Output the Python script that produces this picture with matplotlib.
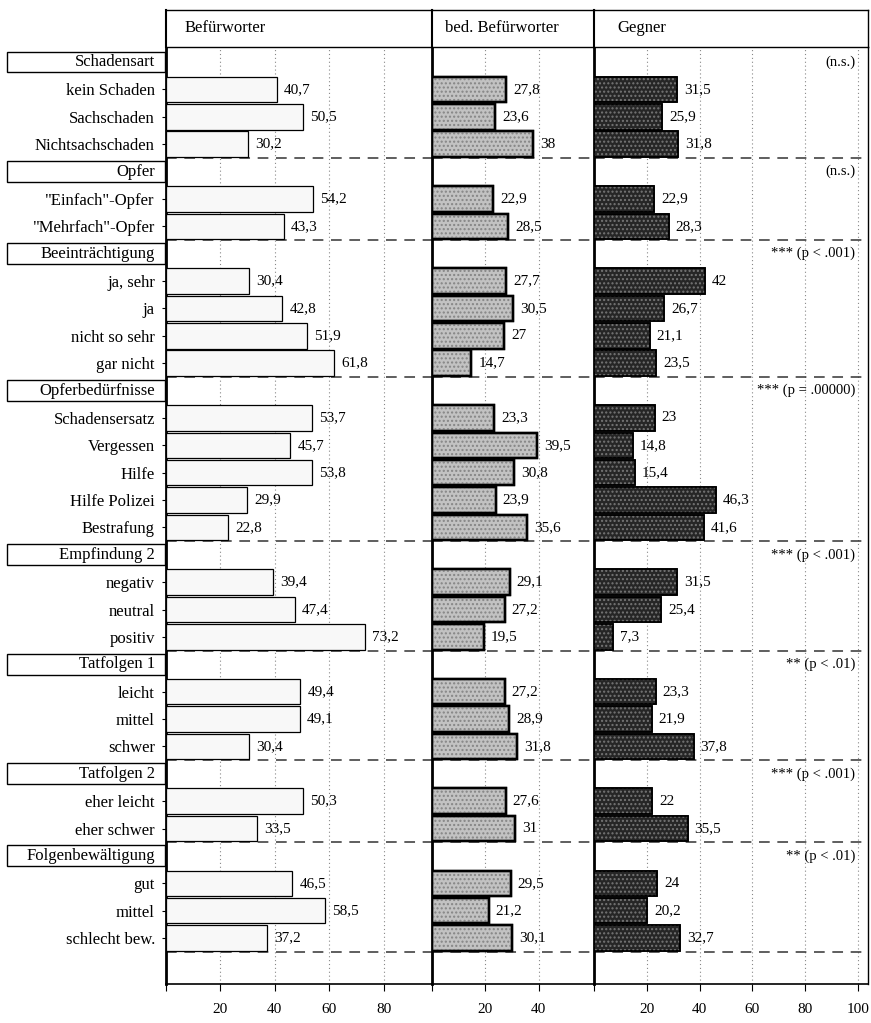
import numpy as np
import matplotlib.pyplot as plt
from matplotlib.patches import Rectangle
from matplotlib.transforms import blended_transform_factory

plt.rcParams['font.family'] = ['Liberation Serif', 'DejaVu Serif']

# groups of the chart (header, category labels)
groups = ["Schadensart", "Opfer", "Beeinträchtigung", "Opferbedürfnisse",
          "Empfindung 2", "Tatfolgen 1", "Tatfolgen 2", "Folgenbewältigung"]
categories = [
    ["kein Schaden", "Sachschaden", "Nichtsachschaden"],
    ['"Einfach"-Opfer', '"Mehrfach"-Opfer'],
    ["ja, sehr", "ja", "nicht so sehr", "gar nicht"],
    ["Schadensersatz", "Vergessen", "Hilfe", "Hilfe Polizei", "Bestrafung"],
    ["negativ", "neutral", "positiv"],
    ["leicht", "mittel", "schwer"],
    ["eher leicht", "eher schwer"],
    ["gut", "mittel", "schlecht bew."],
]
significance = ["(n.s.)", "(n.s.)", "*** (p < .001)", "*** (p = .00000)",
                "*** (p < .001)", "** (p < .01)", "*** (p < .001)", "** (p < .01)"]

befuerworter = [
    [40.7, 50.5, 30.2],
    [54.2, 43.3],
    [30.4, 42.8, 51.9, 61.8],
    [53.7, 45.7, 53.8, 29.9, 22.8],
    [39.4, 47.4, 73.2],
    [49.4, 49.1, 30.4],
    [50.3, 33.5],
    [46.5, 58.5, 37.2],
]
bed_befuerworter = [
    [27.8, 23.6, 38],
    [22.9, 28.5],
    [27.7, 30.5, 27, 14.7],
    [23.3, 39.5, 30.8, 23.9, 35.6],
    [29.1, 27.2, 19.5],
    [27.2, 28.9, 31.8],
    [27.6, 31],
    [29.5, 21.2, 30.1],
]
gegner = [
    [31.5, 25.9, 31.8],
    [22.9, 28.3],
    [42, 26.7, 21.1, 23.5],
    [23, 14.8, 15.4, 46.3, 41.6],
    [31.5, 25.4, 7.3],
    [23.3, 21.9, 37.8],
    [22, 35.5],
    [24, 20.2, 32.7],
]
panel_titles = ["Befürworter", "bed. Befürworter", "Gegner"]
panel_ticks = [[20, 40, 60, 80], [20, 40], [20, 40, 60, 80, 100]]


def fmt(v):
    if float(v).is_integer():
        return str(int(v))
    return ("%.1f" % v).replace(".", ",")


# row layout: header row followed by its categories
header_rows = []
cat_rows = []
cat_labels = []
separators = []
row = 0
for g, cats in zip(groups, categories):
    header_rows.append(row)
    row += 1
    for c in cats:
        cat_rows.append(row)
        cat_labels.append(c)
        row += 1
    separators.append(row - 0.5)

W, H = 871, 1023
fig = plt.figure(figsize=(W / 100, H / 100), dpi=100)

# pixel geometry of the panels
px_per_unit = [2.72, 2.67, 2.64]
panel_x = [(166, 432), (432, 594), (594, 868)]
title_x = [185, 445, 617]
y_top, y_bot, y_title = 47, 984, 10

styles = [
    dict(face="#f8f8f8", edge="black", lw=0.9, hatch=None, hcol=None),
    dict(face="#c2c2c2", edge="black", lw=1.7, hatch="....", hcol="#858585"),
    dict(face="#262626", edge="black", lw=1.2, hatch="....", hcol="#767676"),
]
all_values = [befuerworter, bed_befuerworter, gegner]

axes = []
for p, (x0, x1) in enumerate(panel_x):
    ax = fig.add_axes([x0 / W, 1 - y_bot / H, (x1 - x0) / W, (y_bot - y_top) / H])
    axes.append(ax)
    ax.set_xlim(0, (x1 - x0) / px_per_unit[p])
    ax.set_ylim(row + 0.68, -0.55)

    vals = [v for grp in all_values[p] for v in grp]
    st = styles[p]
    ax.barh(cat_rows, vals, height=0.93, color=st["face"], edgecolor=st["edge"],
            linewidth=st["lw"], zorder=3)
    if st["hatch"]:
        ax.barh(cat_rows, vals, height=0.93, color="none", edgecolor=st["hcol"],
                hatch=st["hatch"], linewidth=0, zorder=3)
        ax.barh(cat_rows, vals, height=0.93, color="none", edgecolor=st["edge"],
                linewidth=st["lw"], zorder=3)
    for y, v in zip(cat_rows, vals):
        ax.text(v + 2.6, y, fmt(v), va="center", ha="left", fontsize=11, zorder=4)

    for s in separators:
        ax.axhline(s, color="#333333", lw=1.1, linestyle=(0, (7, 5)), zorder=2)

    for t in panel_ticks[p]:
        ax.axvline(t, color="#888888", lw=0.8, linestyle=(0, (1, 2.5)), zorder=1)

    ax.set_xticks([0] + panel_ticks[p])
    ax.set_xticklabels([""] + [str(t) for t in panel_ticks[p]], fontsize=11)
    ax.tick_params(axis="x", direction="out", length=5, pad=9)
    ax.spines["top"].set_visible(False)
    ax.spines["left"].set_linewidth(2.0)
    ax.spines["bottom"].set_linewidth(1.2)
    ax.spines["right"].set_visible(p == 2)
    ax.spines["right"].set_linewidth(1.0)
    if p == 0:
        ax.set_yticks(cat_rows + header_rows)
        ax.set_yticklabels(cat_labels + [""] * len(header_rows), fontsize=12)
        ax.tick_params(axis="y", direction="out", length=3, pad=5)
    else:
        ax.set_yticks([])
    ax.set_facecolor("none")

    # title row above the panel
    tax = fig.add_axes([x0 / W, 1 - y_top / H, (x1 - x0) / W, (y_top - y_title) / H])
    tax.set_xticks([])
    tax.set_yticks([])
    for sp in tax.spines.values():
        sp.set_linewidth(1.0)
    tax.spines["left"].set_linewidth(1.5)
    tax.text((title_x[p] - x0) / (x1 - x0), 0.5, panel_titles[p], transform=tax.transAxes,
             va="center", ha="left", fontsize=12)

# significance notes on the right
for y, s in zip(header_rows, significance):
    axes[2].text((855 - 594) / px_per_unit[2], y, s, va="center", ha="right", fontsize=10.5)

# boxed group headers on the left
tr = blended_transform_factory(fig.transFigure, axes[0].transData)
for y, g in zip(header_rows, groups):
    fig.add_artist(Rectangle((7 / W, y - 0.38), 158 / W, 0.76, transform=tr,
                             facecolor="white", edgecolor="black", lw=1.0))
    fig.text(155 / W, y, g, transform=tr, va="center", ha="right", fontsize=12)

fig.savefig("out.png", dpi=100)
